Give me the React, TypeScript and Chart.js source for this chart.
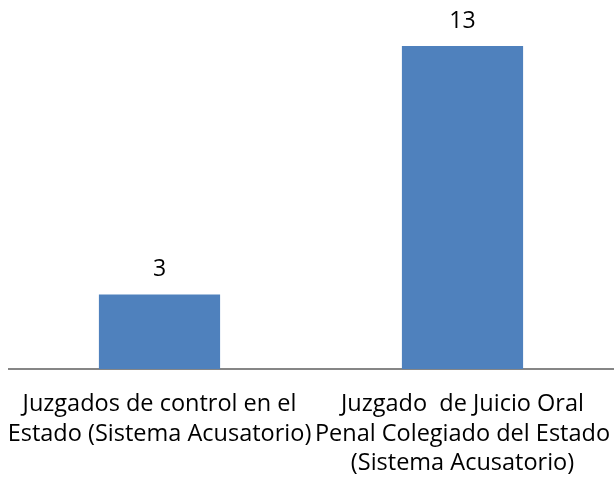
import React, { useEffect, useRef } from "react";
import { Chart, registerables } from "chart.js";

Chart.register(...registerables);

const categories: string[][] = [
  ["Juzgados de control en el", "Estado (Sistema Acusatorio)"],
  ["Juzgado  de Juicio Oral", "Penal Colegiado del Estado", "(Sistema Acusatorio)"],
];
const values: number[] = [3, 13];

const FONT = "'Open Sans', sans-serif";

const valueLabels = {
  id: "valueLabels",
  afterDatasetsDraw(chart: any) {
    const ctx = chart.ctx;
    const meta = chart.getDatasetMeta(0);
    const xScale = chart.scales.x;
    const bottom = chart.chartArea.bottom;
    ctx.save();
    ctx.fillStyle = "#000";
    ctx.textAlign = "center";
    ctx.textBaseline = "alphabetic";
    ctx.font = `23px ${FONT}`;
    meta.data.forEach((bar: any, i: number) => {
      ctx.fillText(String(values[i]), bar.x, bar.y - 18);
    });
    ctx.font = `23.5px ${FONT}`;
    categories.forEach((lines, i) => {
      const x = xScale.getPixelForValue(i);
      lines.forEach((line, j) => {
        ctx.fillText(line, x, bottom + 42 + j * 29.5);
      });
    });
    ctx.restore();
  },
};

export default function App() {
  const ref = useRef<HTMLCanvasElement | null>(null);
  useEffect(() => {
    if (!ref.current) return;
    const chart = new Chart(ref.current, {
      type: "bar",
      data: {
        labels: categories,
        datasets: [
          {
            data: values,
            backgroundColor: "#4F81BD",
            borderWidth: 0,
            categoryPercentage: 1,
            barPercentage: 0.4,
          },
        ],
      },
      options: {
        animation: false,
        responsive: false,
        maintainAspectRatio: false,
        layout: { padding: { top: 46, bottom: 111, left: 0, right: 0 } },
        plugins: { legend: { display: false }, tooltip: { enabled: false } },
        scales: {
          x: {
            grid: { display: false, drawTicks: false },
            border: { display: true, color: "#868686", width: 2 },
            ticks: { display: false },
          },
          y: {
            display: false,
            min: 0,
            max: 13,
          },
        },
      },
      plugins: [valueLabels],
    });
    return () => chart.destroy();
  }, []);
  return (
    <div style={{ position: "absolute", left: 8, top: 0, width: 606, height: 480 }}>
      <canvas ref={ref} width={606} height={480} style={{ display: "block" }} />
    </div>
  );
}
